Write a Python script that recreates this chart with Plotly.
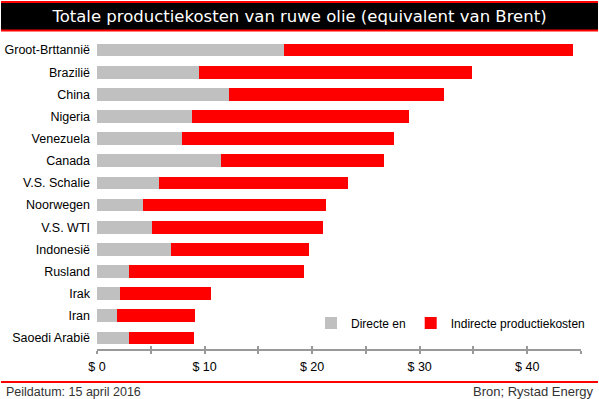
import plotly.graph_objects as go

countries = ["Groot-Brttannië", "Brazilië", "China", "Nigeria", "Venezuela", "Canada",
             "V.S. Schalie", "Noorwegen", "V.S. WTI", "Indonesië", "Rusland", "Irak",
             "Iran", "Saoedi Arabië"]
direct = [17.4, 9.5, 12.3, 8.8, 7.9, 11.5, 5.8, 4.3, 5.1, 6.9, 3.0, 2.1, 1.9, 3.0]
indirect = [26.9, 25.4, 20.0, 20.2, 19.7, 15.2, 17.5, 17.0, 15.9, 12.8, 16.2, 8.5, 7.2, 6.0]

W, H = 599, 399
ML, MR, MT, MB = 97, 18, 39, 50
PW, PH = W - ML - MR, H - MT - MB

def px(x):
    return (x - ML) / PW

def py(y):
    return (H - MB - y) / PH

FONT = "Liberation Sans"

fig = go.Figure()
fig.add_trace(go.Bar(y=countries, x=direct, orientation="h", name="Directe en",
                     marker=dict(color="#C0C0C0", line=dict(width=0))))
fig.add_trace(go.Bar(y=countries, x=indirect, orientation="h", name="Indirecte productiekosten",
                     marker=dict(color="#FF0000", line=dict(width=0))))
# invisible trace to activate overlay axis (for crossing tick marks)
fig.add_trace(go.Scatter(x=[0], y=[countries[0]], xaxis="x2", mode="markers",
                         marker=dict(opacity=0), showlegend=False, hoverinfo="skip"))

n = len(countries)
fig.update_layout(
    width=W, height=H, barmode="stack", bargap=0.43,
    margin=dict(l=ML, r=MR, t=MT, b=MB, autoexpand=False),
    plot_bgcolor="white", paper_bgcolor="white",
    font=dict(family=FONT, size=12, color="#000"),
    showlegend=True,
    legend=dict(orientation="h", x=px(590), y=py(323), xanchor="right", yanchor="middle",
                font=dict(size=12, color="#000"), bgcolor="rgba(0,0,0,0)",
                itemwidth=30, traceorder="normal", tracegroupgap=0),
    xaxis=dict(range=[0, 45], dtick=10, tick0=0, tickprefix="$ ", showgrid=False,
               zeroline=False, showline=True, linecolor="#999", linewidth=1.5,
               ticks="outside", ticklen=3, tickcolor="#999", tickwidth=1.5,
               minor=dict(dtick=5, ticks="outside", ticklen=3, tickcolor="#999", tickwidth=1.5),
               tickfont=dict(size=12.5, color="#000"), ticklabelstandoff=2,
               automargin=False, fixedrange=True),
    xaxis2=dict(range=[0, 45], overlaying="x", side="bottom", anchor="y", dtick=5, tick0=0,
                showgrid=False, zeroline=False, showline=False, showticklabels=False,
                ticks="inside", ticklen=3, tickcolor="#999", tickwidth=1.5, automargin=False),
    yaxis=dict(range=[n - 0.5, -0.5], autorange=False, showgrid=False, zeroline=False,
               showline=False, ticks="", ticklabelstandoff=6,
               tickfont=dict(size=12.5, color="#000"), automargin=False),
    title=dict(text="Totale productiekosten van ruwe olie (equivalent van Brent)",
               x=0.5, xref="container", xanchor="center",
               y=1 - 16.5 / H, yref="container", yanchor="middle",
               font=dict(family="DejaVu Sans", size=16.5, color="white")),
)

# header bar and footer rule
fig.add_shape(type="rect", xref="paper", yref="paper", x0=px(1), x1=px(598), y0=py(30), y1=py(2.5),
              fillcolor="black", line=dict(width=0), layer="below")
fig.add_shape(type="line", xref="paper", yref="paper", x0=px(1), x1=px(598), y0=py(2), y1=py(2),
              line=dict(color="#FF0000", width=2))
fig.add_shape(type="line", xref="paper", yref="paper", x0=px(1), x1=px(598), y0=py(30.5), y1=py(30.5),
              line=dict(color="#FF0000", width=2))
fig.add_shape(type="line", xref="paper", yref="paper", x0=px(1), x1=px(598), y0=py(382), y1=py(382),
              line=dict(color="#FF0000", width=2))

fig.add_annotation(text="Peildatum: 15 april 2016", xref="paper", yref="paper",
                   x=px(4), y=py(391.5), xanchor="left", yanchor="middle", showarrow=False,
                   font=dict(size=12.5, color="#333"))
fig.add_annotation(text="Bron; Rystad Energy", xref="paper", yref="paper",
                   x=px(595), y=py(391.5), xanchor="right", yanchor="middle", showarrow=False,
                   font=dict(size=13, color="#333"))

fig.write_html("out.html", config={"displayModeBar": False},
               post_script="document.body.style.margin='0';document.body.style.overflow='hidden';")
